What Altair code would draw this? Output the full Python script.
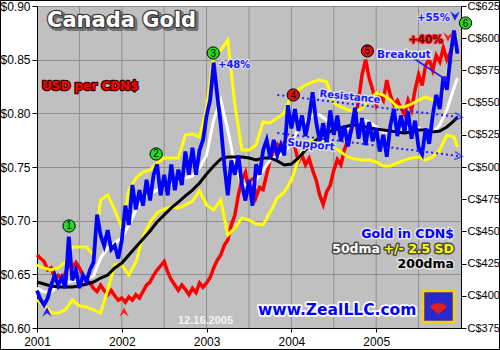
import altair as alt
import pandas as pd

# ---------------- data ----------------
# half-month sampling grid for the daily series, monthly grid for the smooth ones
t_half = [2001 + i / 24 for i in range(120)]
t_month = [2001 + m / 12 for m in range(60)] + [2005.958]

gold_cad = [
    404, 397, 393, 398, 408, 416, 408, 414, 406, 446,
    412, 420, 406, 416, 411, 420, 426, 463, 447, 439,
    451, 436, 439, 429, 443, 470, 455, 486, 467, 482,
    470, 490, 474, 494, 502, 478, 494, 478, 502, 482,
    498, 486, 512, 494, 515, 494, 513, 521, 540, 552,
    581, 556, 533, 502, 478, 505, 494, 509, 486, 474,
    490, 470, 502, 494, 513, 521, 507, 521, 509, 517,
    509, 548, 530, 545, 528, 540, 524, 538, 558, 535,
    520, 534, 518, 544, 525, 540, 520, 532, 516, 530,
    546, 522, 538, 517, 535, 520, 530, 512, 525, 508,
    532, 545, 524, 540, 527, 543, 522, 536, 515, 510,
    530, 518, 540, 556, 545, 570, 560, 585, 606, 588,
]

usd_per_cad = [
    0.668, 0.665, 0.662, 0.654, 0.656, 0.647, 0.649, 0.645, 0.651, 0.659,
    0.656, 0.661, 0.656, 0.649, 0.645, 0.642, 0.637, 0.634, 0.640, 0.635,
    0.631, 0.635, 0.630, 0.626, 0.628, 0.624, 0.629, 0.626, 0.631, 0.628,
    0.634, 0.640, 0.643, 0.649, 0.654, 0.658, 0.662, 0.652, 0.645, 0.640,
    0.635, 0.640, 0.636, 0.631, 0.637, 0.633, 0.642, 0.638, 0.642, 0.647,
    0.656, 0.663, 0.668, 0.677, 0.682, 0.696, 0.705, 0.724, 0.738, 0.745,
    0.727, 0.740, 0.722, 0.731, 0.729, 0.743, 0.757, 0.766, 0.771, 0.766,
    0.773, 0.775, 0.777, 0.768, 0.755, 0.761, 0.752, 0.758, 0.747, 0.738,
    0.724, 0.715, 0.727, 0.733, 0.747, 0.757, 0.752, 0.766, 0.775, 0.785,
    0.794, 0.812, 0.836, 0.850, 0.833, 0.822, 0.808, 0.817, 0.812, 0.831,
    0.817, 0.808, 0.812, 0.805, 0.799, 0.812, 0.803, 0.822, 0.836, 0.826,
    0.845, 0.850, 0.840, 0.854, 0.848, 0.861, 0.850, 0.857, 0.868, 0.873,
]

dma50 = [
    406.1, 403.0, 403.0, 408.4, 409.9, 411.5, 412.3, 413.0, 415.4, 429.3,
    437.1, 441.0, 444.9, 455.0, 466.6, 475.9, 479.0, 482.1, 484.4, 486.8,
    489.1, 491.5, 493.0, 499.3, 509.3, 536.5, 552.0, 528.7, 501.6, 486.8,
    485.2, 489.9, 497.7, 505.4, 508.5, 510.9, 518.6, 530.3, 535.0, 540.4,
    540.4, 536.5, 532.6, 528.7, 530.3, 532.6, 536.5, 535.0, 531.1, 527.2,
    527.2, 528.7, 530.3, 531.8, 530.3, 527.2, 526.4, 532.6, 544.3, 561.3,
    569.1,
]

band_upper = [
    423.9, 421.6, 420.0, 421.6, 426.2, 437.9, 437.9, 437.9, 431.7, 474.4,
    478.3, 466.6, 452.6, 482.1, 491.5, 496.1, 497.7, 503.1, 507.0, 507.0,
    507.0, 524.8, 525.6, 523.3, 545.8, 587.0, 590.8, 598.6, 548.1, 513.2,
    513.2, 517.1, 535.0, 534.2, 538.0, 541.9, 555.9, 559.8, 563.7, 566.0,
    567.5, 566.0, 549.7, 546.6, 544.3, 542.7, 545.8, 552.0, 557.5, 555.9,
    552.0, 546.6, 546.6, 548.9, 552.0, 554.4, 552.0, 547.4, 571.4, 594.7,
    602.5,
]

band_lower = [
    396.7, 392.9, 386.6, 386.6, 389.0, 396.7, 392.1, 391.3, 389.0, 386.6,
    404.5, 423.9, 423.9, 416.1, 426.2, 445.7, 457.3, 464.3, 467.4, 468.9,
    468.2, 470.5, 473.6, 481.4, 470.5, 466.6, 474.4, 447.2, 452.6, 460.4,
    458.9, 455.7, 455.0, 465.1, 475.9, 480.6, 489.9, 505.4, 518.6, 521.0,
    521.0, 518.6, 515.5, 511.6, 507.8, 506.2, 505.4, 505.4, 503.9, 500.8,
    500.8, 503.1, 505.4, 507.0, 507.8, 505.4, 507.8, 513.2, 524.8, 523.3,
    515.5,
]

dma200 = [
    410.7, 409.2, 407.6, 406.8, 406.8, 406.8, 407.6, 409.2, 410.7, 413.8,
    416.1, 421.6, 425.4, 431.7, 437.9, 444.1, 450.3, 457.3, 462.7, 468.2,
    472.8, 477.5, 482.1, 487.6, 494.6, 500.8, 506.2, 507.8, 507.8, 507.8,
    507.0, 505.4, 507.0, 507.0, 504.7, 501.6, 502.3, 507.0, 513.2, 518.6,
    523.3, 526.4, 528.7, 530.3, 531.8, 532.6, 531.8, 530.3, 529.5, 528.7,
    528.0, 527.2, 526.4, 527.2, 528.7, 528.7, 527.2, 528.0, 531.1, 535.7,
    538.8,
]

marker_t = [2001.378, 2002.405, 2003.078, 2004.022, 2004.896, 2006.053]
marker_v = [454.2, 510.1, 588.5, 555.9, 590.1, 611.8]
marker_lbl = ["1", "2", "3", "4", "5", "6"]
marker_kind = ["green", "green", "green", "red", "red", "green"]

trend_t1 = [2003.834, 2003.834]
trend_v1 = [555.9, 526.4]
trend_t2 = [2005.97, 2005.97]
trend_v2 = [538.8, 508.5]

grid_years = [2001.5, 2002, 2002.5, 2003, 2003.5, 2004, 2004.5, 2005, 2005.5]
year_ticks = [2001, 2002, 2003, 2004, 2005]
usd_ticks = [0.60, 0.65, 0.70, 0.75, 0.80, 0.85, 0.90]
cad_ticks = [375, 400, 425, 450, 475, 500, 525, 550, 575, 600, 625]

# ---------------- tables ----------------
half_df = pd.DataFrame({"t": t_half, "gold": gold_cad, "usd": usd_per_cad})
month_df = pd.DataFrame({"t": t_month, "ma50": dma50, "up": band_upper,
                         "lo": band_lower, "ma200": dma200})
mark_df = pd.DataFrame({"t": marker_t, "v": marker_v, "lbl": marker_lbl, "kind": marker_kind})
trend_df = pd.DataFrame({"t": trend_t1, "v": trend_v1, "t2": trend_t2, "v2": trend_v2})
head_df = pd.DataFrame({"t": trend_t2, "v": trend_v2})
grid_df = pd.DataFrame({"t": grid_years})
ONE = pd.DataFrame({"k": [0]})

xs = alt.Scale(domain=[2001, 2006], nice=False, zero=False)
gs = alt.Scale(domain=[375, 625], nice=False, zero=False)
us = alt.Scale(domain=[0.60, 0.90], nice=False, zero=False)

x_axis = alt.Axis(values=year_ticks, format="d", grid=False, labelFlush=False,
                  domainColor="black", tickColor="black", tickSize=4,
                  labelFontSize=12, labelColor="black", labelPadding=4)
gold_axis = alt.Axis(orient="right", values=cad_ticks,
                     labelExpr="'C$' + datum.value", grid=False,
                     domainColor="black", tickColor="black", tickSize=5,
                     labelFontSize=11, labelColor="black", labelPadding=1)
usd_axis = alt.Axis(orient="left", values=usd_ticks,
                    labelExpr="'$' + format(datum.value, '.2f')",
                    grid=True, gridColor="#8e8e8e", gridWidth=1,
                    domainColor="black", tickColor="black", tickSize=5,
                    labelFontSize=12, labelColor="black", labelPadding=2)

X = alt.X("t:Q", scale=xs, title=None, axis=x_axis)

def GY(field):
    return alt.Y(f"{field}:Q", scale=gs, title=None, axis=gold_axis)

vgrid = alt.Chart(grid_df).mark_rule(color="#8e8e8e", strokeWidth=1).encode(
    x=X, y=alt.value(0), y2=alt.value(322))

red = alt.Chart(half_df).mark_line(color="#ff0000", strokeWidth=3.5).encode(
    x=X, y=alt.Y("usd:Q", scale=us, title=None, axis=usd_axis))

def mline(field, color, w):
    return alt.Chart(month_df).mark_line(color=color, strokeWidth=w).encode(x=X, y=GY(field))

upper = mline("up", "#ffff00", 3)
lower = mline("lo", "#ffff00", 3)
white = mline("ma50", "#ffffff", 3)
black = mline("ma200", "#000000", 3)

blue = alt.Chart(half_df).mark_line(color="#0000ff", strokeWidth=3.8).encode(x=X, y=GY("gold"))

trend_lines = alt.Chart(trend_df).mark_rule(color="#2020ff", strokeWidth=2, strokeDash=[2, 3]).encode(
    x=X, x2="t2:Q", y=GY("v"), y2="v2:Q")
trend_heads = alt.Chart(head_df).mark_point(shape="M-1,-1L1,0L-1,1", filled=False,
                                            color="#2020ff", strokeWidth=1.5, size=60, angle=7).encode(
    x=X, y=GY("v"))

circles = alt.Chart(mark_df).mark_point(filled=True, shape="circle", size=150, stroke="black",
                                        strokeWidth=1, opacity=1).encode(
    x=X, y=GY("v"),
    fill=alt.Fill("kind:N", scale=alt.Scale(domain=["green", "red"], range=["#22dd22", "#e01010"]),
                  legend=None))
circle_txt = alt.Chart(mark_df).mark_text(fontSize=10, font="Liberation Sans", color="black",
                                          baseline="middle", dy=0.5).encode(
    x=X, y=GY("v"), text="lbl:N")

gold_layer = alt.layer(upper, lower, white, black, blue, trend_lines, trend_heads, circles, circle_txt)

# ---------------- annotations ----------------
def txt(s, x, y, size, fill, outline=None, ow=3.0, align="left", baseline="alphabetic",
        angle=0, font="DejaVu Sans", weight="bold", shadow=None, sw=4.0):
    common = dict(text=s, align=align, baseline=baseline, angle=angle, font=font,
                  fontWeight=weight, fontSize=size)
    parts = []
    if shadow:
        parts.append(alt.Chart(ONE).mark_text(fill=shadow, stroke=shadow, strokeWidth=sw,
                                              strokeJoin="round", dx=2, dy=2, **common)
                     .encode(x=alt.value(x), y=alt.value(y)))
    if outline:
        parts.append(alt.Chart(ONE).mark_text(fill=outline, stroke=outline, strokeWidth=ow,
                                              strokeJoin="round", **common)
                     .encode(x=alt.value(x), y=alt.value(y)))
    parts.append(alt.Chart(ONE).mark_text(fill=fill, **common).encode(x=alt.value(x), y=alt.value(y)))
    return parts

def chevron(x, y, color, down=True, size=90):
    path = "M-1,-1L0,-0.2L1,-1L0,1Z" if down else "M-1,1L0,0.2L1,1L0,-1Z"
    return alt.Chart(ONE).mark_point(shape=path, filled=True, color=color, size=size,
                                     opacity=1).encode(x=alt.value(x), y=alt.value(y))

ann = []
ann += txt("Canada Gold", 10, 21, 21, "#ffffff", outline="#383838", ow=2.5, shadow="#707070")
ann += txt("USD per CDN$", 5, 84, 12, "#ff0000", outline="#3a0000", ow=2.5)
ann += txt("+48%", 181, 61.5, 10, "#1a1aff", outline="#d8d8e8", ow=2.5)
ann += txt("+55%", 380, 15, 10.2, "#1a1aff", outline="#d8d8e8", ow=2.5)
ann += txt("+40%", 372, 37, 10.5, "#6a0000", outline="#ff3030", ow=2.5)
ann += txt("Breakout", 340, 52, 10.5, "#1a1aff", outline="#e8e8f0", ow=3)
ann += txt("Resistance", 313, 91, 10, "#1a1aff", outline="#dcdce8", ow=3, align="center",
           baseline="middle", angle=6)
ann += txt("Support", 274, 139, 10.5, "#1a1aff", outline="#dcdce8", ow=3, align="center",
           baseline="middle", angle=6)
ann += txt("Gold in CDN$", 417, 232, 12.5, "#0000ff", outline="#e4e4e4", ow=3, align="right")
ann += txt("+/- 2.5 SD", 417, 247, 12.5, "#ffff00", outline="#4a4a4a", ow=3, align="right")
ann += txt("50dma", 343, 247, 12.5, "#ffffff", outline="#4a4a4a", ow=3, align="right")
ann += txt("200dma", 417, 262, 12.5, "#000000", outline="#e0e0e0", ow=3, align="right")
ann += txt("www.ZealLLC.com", 221, 309, 15.5, "#0000ff", outline="#ffffff", ow=3.5)
ann += txt("12.16.2005", 141, 317.5, 11, "#f4f4f4", font="Liberation Sans")

breakout_line = alt.Chart(ONE).mark_rule(color="#1a1aff", strokeWidth=1.5).encode(
    x=alt.value(376), y=alt.value(52), x2=alt.value(408), y2=alt.value(73))
breakout_head = alt.Chart(ONE).mark_point(shape="triangle-up", filled=True, color="#1a1aff",
                                          size=45, angle=123, opacity=1).encode(
    x=alt.value(409), y=alt.value(74))

logo = [
    alt.Chart(ONE).mark_rect(fill="#2a2acc", stroke="#ffcc00", strokeWidth=2.5).encode(
        x=alt.value(386), x2=alt.value(417), y=alt.value(285), y2=alt.value(316)),
    alt.Chart(ONE).mark_arc(fill="#e02020", theta=5.38, theta2=7.18, outerRadius=11,
                            innerRadius=0).encode(x=alt.value(401.5), y=alt.value(308)),
]

frame = alt.Chart(ONE).mark_rect(fillOpacity=0, stroke="black", strokeWidth=1).encode(
    x=alt.value(-36.5), x2=alt.value(462.5), y=alt.value(-5.5), y2=alt.value(343.5))

chart = alt.layer(
    vgrid, red, gold_layer,
    breakout_line, breakout_head,
    chevron(418, 10, "#1a1aff"), chevron(411, 31, "#ff2020"),
    chevron(10, 306, "#1a1aff", down=False), chevron(87, 306, "#ff2020", down=False),
    *ann, *logo, frame,
).resolve_scale(y="independent").properties(
    width=424, height=322,
    padding={"left": 37, "top": 6, "right": 39, "bottom": 22},
    autosize="none", background="#ffffff",
).configure_view(fill="#c0c0c0", stroke="transparent").configure_axis(
    labelFont="Liberation Sans")

chart.save("out.html", embed_options={"renderer": "svg", "actions": False})
